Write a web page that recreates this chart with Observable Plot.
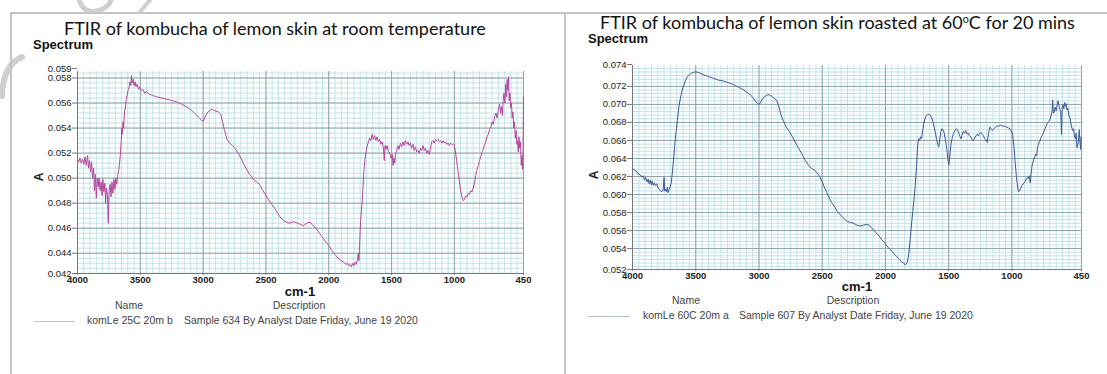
<!DOCTYPE html>
<html>
<head>
<meta charset="utf-8">
<script src="https://cdn.jsdelivr.net/npm/d3@7"></script>
<script src="https://cdn.jsdelivr.net/npm/@observablehq/plot@0.6"></script>
<style>
  html, body { margin: 0; padding: 0; background: #fff; }
  #page { position: relative; width: 1107px; height: 374px; overflow: hidden; background: #fff; }
  .abs { position: absolute; white-space: nowrap; }
  .title { font-family: Lato, "Open Sans", sans-serif; font-size: 18px; color: #111; }
  .spec { font-family: "Liberation Sans", Arial, sans-serif; font-weight: bold; font-size: 13px; color: #111; }
  .ylab { font-family: "Liberation Sans", Arial, sans-serif; font-weight: bold; font-size: 12px; color: #222; transform: rotate(-90deg); transform-origin: center; }
  .xlab { font-family: "Liberation Sans", Arial, sans-serif; font-weight: bold; font-size: 13px; color: #111; transform: translateX(-50%); }
  .leg { font-family: "Liberation Sans", Arial, sans-serif; font-size: 10.5px; color: #444; }
  .legc { transform: translateX(-50%); }
  .swatch { position: absolute; height: 0; border-top: 1px solid; }
</style>
</head>
<body>
<div id="page">
  <svg class="abs" style="left:0;top:0" width="1107" height="374">
    <g fill="none" stroke="#cfcfcf" stroke-linecap="round">
      <path d="M79,0 Q84,14 97,11 Q109,8 111,0" stroke-width="5"/>
      <path d="M140,12 L150,0" stroke-width="4"/>
      <path d="M22,57 Q3,65 2,96" stroke-width="6"/>
    </g>
    <g stroke="#c4c4c4" stroke-width="2">
      <line x1="10" y1="13" x2="1107" y2="13"/>
      <line x1="11" y1="13" x2="11" y2="374"/>
      <line x1="565" y1="13" x2="565" y2="374"/>
    </g>
  </svg>

  <div class="abs title" style="left:64px;top:17px">FTIR of kombucha of lemon skin at room temperature</div>
  <div class="abs spec" style="left:33px;top:37px">Spectrum</div>
  <div class="abs title" style="left:600px;top:11px">FTIR of kombucha of lemon skin roasted at 60<sup style="font-size:0.6em;vertical-align:0.6em;line-height:0">o</sup>C for 20 mins</div>
  <div class="abs spec" style="left:588px;top:31px">Spectrum</div>

  <div id="left" class="abs" style="left:0;top:0"></div>
  <div id="right" class="abs" style="left:560px;top:0"></div>

  <div class="abs ylab" style="left:35px;top:170px">A</div>
  <div class="abs ylab" style="left:590px;top:168px">A</div>

  <div class="abs xlab" style="left:300px;top:284px">cm-1</div>
  <div class="abs leg legc" style="left:129px;top:299px">Name</div>
  <div class="abs leg legc" style="left:299px;top:299px">Description</div>
  <div class="swatch" style="left:34px;top:321px;width:41px;border-color:#dcb2d6"></div>
  <div class="abs leg" style="left:87px;top:314px">komLe 25C 20m b</div>
  <div class="abs leg" style="left:184px;top:314px">Sample 634 By Analyst Date Friday, June 19 2020</div>

  <div class="abs xlab" style="left:857px;top:279px">cm-1</div>
  <div class="abs leg legc" style="left:686px;top:294px">Name</div>
  <div class="abs leg legc" style="left:853px;top:294px">Description</div>
  <div class="swatch" style="left:588px;top:316px;width:42px;border-color:#b4c0d2"></div>
  <div class="abs leg" style="left:643px;top:309px">komLe 60C 20m a</div>
  <div class="abs leg" style="left:739px;top:309px">Sample 607 By Analyst Date Friday, June 19 2020</div>
</div>
<script>
// ---- data ----
const xTicks = [4000, 3500, 3000, 2500, 2000, 1500, 1000, 450];

const leftWn = [4000,3990,3980,3970,3960,3950,3940,3930,3920,3912,3905,3895,3888,3880,3872,3865,3858,3850,3843,3835,3828,3820,3812,3805,3798,3790,3782,3776,3770,3762,3755,3748,3740,3733,3726,3718,3710,3702,3695,3688,3680,3672,3665,3658,3652,3647,3643,3638,3632,3627,3620,3612,3605,3598,3590,3583,3576,3570,3564,3558,3550,3542,3535,3525,3515,3505,3495,3480,3465,3450,3430,3400,3370,3330,3290,3250,3210,3170,3130,3090,3060,3030,3010,2995,2980,2960,2935,2910,2880,2860,2845,2830,2810,2790,2765,2740,2715,2690,2660,2630,2600,2575,2550,2530,2505,2480,2455,2430,2400,2380,2360,2340,2310,2290,2270,2250,2225,2200,2175,2150,2125,2100,2075,2050,2025,2000,1975,1950,1925,1900,1880,1865,1850,1840,1830,1820,1810,1800,1790,1780,1772,1765,1760,1755,1750,1745,1740,1735,1728,1720,1712,1705,1695,1685,1675,1665,1655,1645,1635,1625,1615,1605,1595,1585,1575,1565,1558,1552,1545,1535,1525,1515,1505,1495,1488,1482,1475,1468,1460,1450,1440,1430,1420,1410,1400,1390,1380,1370,1360,1350,1340,1330,1320,1310,1300,1290,1280,1270,1260,1250,1240,1230,1220,1210,1200,1190,1180,1170,1160,1150,1140,1130,1120,1110,1100,1090,1080,1070,1060,1050,1040,1030,1020,1010,1000,990,980,970,960,950,940,930,920,910,900,890,880,870,860,850,840,830,820,810,800,790,780,770,760,750,740,730,720,710,700,690,680,670,660,650,640,632,625,618,612,605,598,592,586,580,574,569,564,558,552,546,540,534,528,522,515,509,503,497,491,486,480,474,468,462,457,453,450];
const leftA = [0.0515,0.0513,0.0516,0.0512,0.0515,0.0511,0.0517,0.0510,0.0518,0.0508,0.0514,0.0505,0.0513,0.0500,0.0508,0.0490,0.0503,0.0484,0.0500,0.0493,0.0500,0.0490,0.0497,0.0486,0.0499,0.0489,0.0496,0.0480,0.0492,0.0487,0.0464,0.0490,0.0495,0.0485,0.0497,0.0488,0.0499,0.0491,0.0500,0.0495,0.0502,0.0506,0.0512,0.0520,0.0530,0.0540,0.0535,0.0545,0.0540,0.0552,0.0556,0.0563,0.0566,0.0570,0.0572,0.0577,0.0574,0.0582,0.0576,0.0579,0.0574,0.0577,0.0573,0.0575,0.0571,0.0573,0.0570,0.0571,0.0568,0.0569,0.0567,0.0566,0.0565,0.0564,0.0563,0.0562,0.0561,0.0559,0.0557,0.0554,0.0551,0.0548,0.0546,0.0546,0.0550,0.0553,0.0555,0.0554,0.0553,0.0551,0.0545,0.0538,0.0531,0.0528,0.0526,0.0523,0.0519,0.0514,0.0508,0.0503,0.0499,0.0497,0.0495,0.0491,0.0487,0.0483,0.0479,0.0476,0.0471,0.0468,0.0466,0.0465,0.0464,0.0465,0.0465,0.0464,0.0463,0.0462,0.0464,0.0465,0.0462,0.0460,0.0456,0.0453,0.0449,0.0446,0.0442,0.0439,0.0436,0.0434,0.0433,0.0431,0.0432,0.0430,0.0431,0.0429,0.0432,0.0430,0.0433,0.0431,0.0435,0.0440,0.0434,0.0445,0.0458,0.0468,0.0474,0.0480,0.0492,0.0506,0.0515,0.0520,0.0525,0.0529,0.0532,0.0530,0.0535,0.0531,0.0534,0.0530,0.0533,0.0529,0.0531,0.0527,0.0529,0.0524,0.0514,0.0526,0.0523,0.0526,0.0521,0.0520,0.0516,0.0519,0.0510,0.0516,0.0512,0.0519,0.0522,0.0526,0.0523,0.0528,0.0525,0.0529,0.0526,0.0530,0.0527,0.0529,0.0526,0.0528,0.0524,0.0527,0.0522,0.0525,0.0521,0.0522,0.0520,0.0524,0.0522,0.0526,0.0522,0.0524,0.0520,0.0522,0.0519,0.0524,0.0529,0.0530,0.0528,0.0531,0.0530,0.0531,0.0529,0.0530,0.0528,0.0530,0.0528,0.0529,0.0527,0.0528,0.0526,0.0528,0.0527,0.0527,0.0526,0.0520,0.0512,0.0505,0.0497,0.0490,0.0485,0.0482,0.0483,0.0486,0.0485,0.0488,0.0487,0.0490,0.0489,0.0492,0.0496,0.0502,0.0507,0.0510,0.0514,0.0517,0.0521,0.0523,0.0527,0.0529,0.0533,0.0535,0.0539,0.0541,0.0545,0.0543,0.0549,0.0552,0.0548,0.0555,0.0559,0.0552,0.0557,0.0550,0.0562,0.0568,0.0560,0.0575,0.0565,0.0579,0.0570,0.0581,0.0562,0.0568,0.0556,0.0560,0.0548,0.0553,0.0540,0.0545,0.0532,0.0538,0.0527,0.0530,0.0521,0.0533,0.0524,0.0529,0.0510,0.0518,0.0507,0.0525,0.0565];

const rightWn = [4000,3985,3970,3955,3940,3925,3915,3905,3895,3885,3876,3868,3860,3852,3844,3836,3828,3818,3808,3798,3788,3778,3768,3758,3750,3746,3740,3732,3725,3718,3710,3702,3695,3688,3680,3672,3664,3655,3645,3635,3625,3615,3605,3595,3580,3565,3550,3530,3510,3490,3470,3440,3400,3360,3320,3280,3240,3200,3160,3120,3080,3050,3025,3010,2998,2985,2970,2950,2930,2910,2890,2870,2855,2840,2825,2805,2785,2760,2735,2710,2685,2660,2635,2610,2585,2560,2540,2520,2500,2480,2460,2440,2420,2400,2380,2360,2340,2320,2300,2275,2250,2225,2200,2175,2150,2130,2110,2090,2070,2050,2030,2010,1990,1970,1950,1930,1910,1890,1870,1855,1845,1835,1825,1815,1805,1795,1785,1775,1765,1755,1745,1738,1730,1722,1715,1705,1695,1685,1675,1665,1655,1645,1635,1625,1615,1605,1595,1585,1578,1570,1562,1555,1545,1535,1525,1515,1505,1498,1490,1482,1472,1462,1450,1440,1430,1420,1410,1402,1395,1385,1375,1365,1355,1345,1335,1325,1315,1305,1295,1285,1275,1265,1255,1245,1235,1225,1215,1205,1195,1185,1175,1165,1155,1145,1135,1120,1105,1090,1075,1060,1045,1030,1015,1005,995,985,975,965,955,948,940,930,920,910,900,890,880,870,862,855,848,840,830,820,812,805,798,790,780,770,760,750,740,730,720,710,700,690,683,678,672,665,658,650,642,635,628,620,614,608,603,597,590,584,578,572,565,558,550,543,535,528,520,512,505,498,492,486,480,474,468,462,457,453,450];
const rightA = [0.0629,0.0627,0.0626,0.0623,0.0622,0.0619,0.0621,0.0616,0.0619,0.0614,0.0617,0.0612,0.0616,0.0611,0.0615,0.0610,0.0613,0.0610,0.0612,0.0607,0.0606,0.0604,0.0603,0.0605,0.0619,0.0604,0.0606,0.0603,0.0608,0.0602,0.0606,0.0609,0.0612,0.0620,0.0632,0.0645,0.0658,0.0670,0.0682,0.0695,0.0704,0.0711,0.0717,0.0721,0.0727,0.0731,0.0733,0.0735,0.0736,0.0736,0.0735,0.0733,0.0731,0.0729,0.0727,0.0726,0.0724,0.0722,0.0719,0.0716,0.0712,0.0708,0.0703,0.0701,0.0700,0.0703,0.0707,0.0709,0.0711,0.0710,0.0708,0.0706,0.0703,0.0696,0.0688,0.0681,0.0675,0.0670,0.0664,0.0657,0.0651,0.0645,0.0638,0.0633,0.0629,0.0627,0.0624,0.0620,0.0614,0.0607,0.0601,0.0595,0.0590,0.0586,0.0581,0.0578,0.0575,0.0572,0.0570,0.0569,0.0568,0.0566,0.0565,0.0566,0.0567,0.0566,0.0563,0.0560,0.0557,0.0554,0.0550,0.0547,0.0543,0.0540,0.0537,0.0534,0.0531,0.0528,0.0525,0.0524,0.0522,0.0523,0.0526,0.0535,0.0550,0.0565,0.0580,0.0593,0.0610,0.0630,0.0655,0.0662,0.0660,0.0664,0.0662,0.0672,0.0680,0.0685,0.0688,0.0689,0.0689,0.0688,0.0685,0.0681,0.0675,0.0668,0.0661,0.0655,0.0653,0.0662,0.0670,0.0673,0.0672,0.0668,0.0660,0.0650,0.0638,0.0633,0.0645,0.0656,0.0663,0.0668,0.0671,0.0673,0.0672,0.0668,0.0664,0.0662,0.0666,0.0670,0.0668,0.0671,0.0667,0.0668,0.0665,0.0664,0.0661,0.0660,0.0663,0.0665,0.0667,0.0665,0.0668,0.0669,0.0667,0.0665,0.0662,0.0660,0.0658,0.0668,0.0675,0.0673,0.0671,0.0673,0.0674,0.0676,0.0676,0.0677,0.0676,0.0676,0.0675,0.0674,0.0673,0.0671,0.0667,0.0655,0.0637,0.0620,0.0608,0.0603,0.0604,0.0607,0.0610,0.0612,0.0614,0.0616,0.0619,0.0618,0.0621,0.0613,0.0624,0.0633,0.0638,0.0642,0.0645,0.0643,0.0652,0.0656,0.0659,0.0663,0.0666,0.0669,0.0673,0.0676,0.0679,0.0681,0.0683,0.0688,0.0692,0.0705,0.0690,0.0692,0.0697,0.0693,0.0700,0.0704,0.0698,0.0694,0.0692,0.0666,0.0697,0.0700,0.0695,0.0702,0.0698,0.0701,0.0694,0.0696,0.0688,0.0686,0.0680,0.0675,0.0671,0.0673,0.0664,0.0662,0.0668,0.0652,0.0655,0.0660,0.0672,0.0658,0.0650,0.0664,0.0662];

const leftYTicks = [0.044, 0.046, 0.048, 0.050, 0.052, 0.054, 0.056, 0.058];
const rightYTicks = [0.054, 0.056, 0.058, 0.060, 0.062, 0.064, 0.066, 0.068, 0.070, 0.072];

// ---- drawing ----
function spectrum(el, wn, a, opts) {
  const data = wn.map((w, i) => ({w, a: a[i]}));
  const [y0, y1] = opts.yDomain;
  const minorY = d3.range(Math.ceil(y0 / 0.0004), Math.floor(y1 / 0.0004) + 1).map(i => i * 0.0004);
  const minorX = d3.range(450, 4001, 50);
  const fmt = d3.format(".3f");
  const axisStyle = {tickSize: 5, tickPadding: 1, stroke: "#777", label: null, tickFormat: fmt};
  const plot = Plot.plot({
    width: opts.width, height: opts.height,
    marginLeft: opts.ml, marginRight: opts.mr, marginTop: opts.mt, marginBottom: opts.mb,
    style: {fontFamily: "'Liberation Sans', Arial, sans-serif", fontSize: "9.5px", color: "#222", background: "transparent", overflow: "visible"},
    x: {domain: [4000, 450]},
    y: {domain: opts.yDomain},
    marks: [
      Plot.ruleX(minorX, {stroke: "#c2e2e9", strokeWidth: 1}),
      Plot.ruleY(minorY, {stroke: "#c2e2e9", strokeWidth: 1}),
      Plot.ruleX(xTicks, {stroke: "#93a3ac", strokeWidth: 1}),
      Plot.ruleY(opts.yTicks, {stroke: "#93a3ac", strokeWidth: 1}),
      Plot.ruleX([4000], {stroke: "#777"}),
      Plot.ruleY([y0], {stroke: "#777"}),
      Plot.axisY({...axisStyle, ticks: opts.yTicks}),
      Plot.axisY({...axisStyle, ticks: [y1], dy: opts.topDy}),
      Plot.axisY({...axisStyle, ticks: [y0], dy: 0}),
      Plot.axisX({ticks: xTicks, tickFormat: d => String(d), tickSize: 2, tickPadding: 1, stroke: "#777", label: null, fontWeight: "bold"}),
      Plot.line(data, {x: "w", y: "a", stroke: opts.color, strokeWidth: 1})
    ]
  });
  el.appendChild(plot);
}

spectrum(document.getElementById("left"), leftWn, leftA, {
  width: 560, height: 290, ml: 77, mr: 37, mt: 71, mb: 17,
  yDomain: [0.04238, 0.05852], yTicks: leftYTicks, color: "#b5469f", topDy: -3
});
spectrum(document.getElementById("right"), rightWn, rightA, {
  width: 547, height: 286, ml: 72, mr: 26, mt: 65, mb: 17,
  yDomain: [0.05168, 0.07432], yTicks: rightYTicks, color: "#3b5896", topDy: -1
});
</script>
</body>
</html>
